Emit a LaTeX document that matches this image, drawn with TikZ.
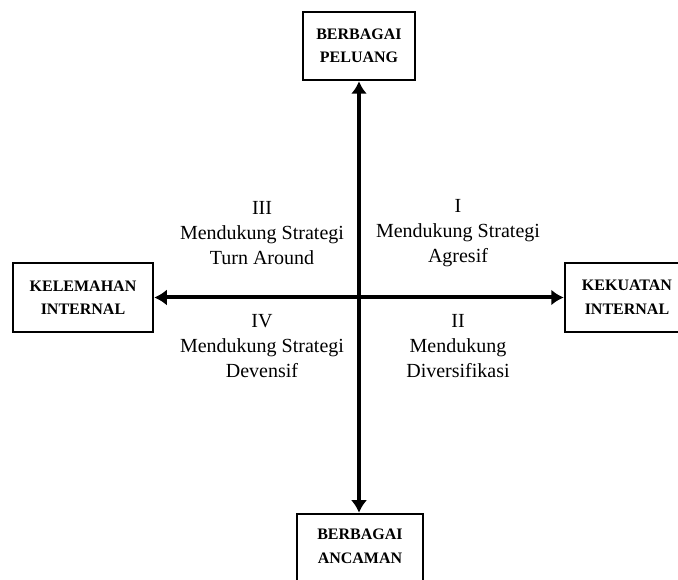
\documentclass[tikz,border=0pt]{standalone}
\usepackage{fontspec}
\setmainfont{Liberation Serif}
\usetikzlibrary{arrows.meta}
\tikzset{
  box/.style={draw, line width=2.5pt, rectangle, inner sep=0pt, align=center,
    font=\fontsize{16}{23.5}\selectfont\bfseries},
  boxtext/.style={inner sep=0pt, align=center, font=\fontsize{16}{23.5}\selectfont\bfseries},
  quad/.style={inner sep=0pt, align=center, font=\fontsize{20}{25}\selectfont},
  axis/.style={line width=4pt, {Latex[length=12.5pt,width=16pt]}-{Latex[length=12.5pt,width=16pt]}}
}
\begin{document}
\begin{tikzpicture}[x=1pt,y=1pt]
\useasboundingbox (0,0) rectangle (678,580);
\clip (0,0) rectangle (678,580);
\node[box, minimum width=112pt, minimum height=68pt] (top) at (359,534) {BERBAGAI\\PELUANG};
\node[box, minimum width=140pt, minimum height=69pt] (left) at (83,282.5) {KELEMAHAN\\INTERNAL};
\node[box, minimum width=120pt, minimum height=69pt] (right) at (625,282.5) {};
\node[boxtext] (righttext) at (627,283) {KEKUATAN\\INTERNAL};
\node[box, minimum width=126pt, minimum height=80pt] (bottom) at (360,26) {};
\node[boxtext] (bottomtext) at (360,33.5) {BERBAGAI\\ANCAMAN};
\draw[axis] (top.south) -- (top.south |- bottom.north);
\draw[axis] (left.east) -- (right.west);
\node[quad] (q3) at (262,347.3) {III\\Mendukung Strategi\\Turn Around};
\node[quad] (q1) at (458,347.3) {I\\Mendukung Strategi\\Agresif};
\node[quad] (q4) at (262,234) {IV\\Mendukung Strategi\\Devensif};
\node[quad] (q2) at (458,234) {II\\Mendukung\\Diversifikasi};
\end{tikzpicture}
\end{document}
